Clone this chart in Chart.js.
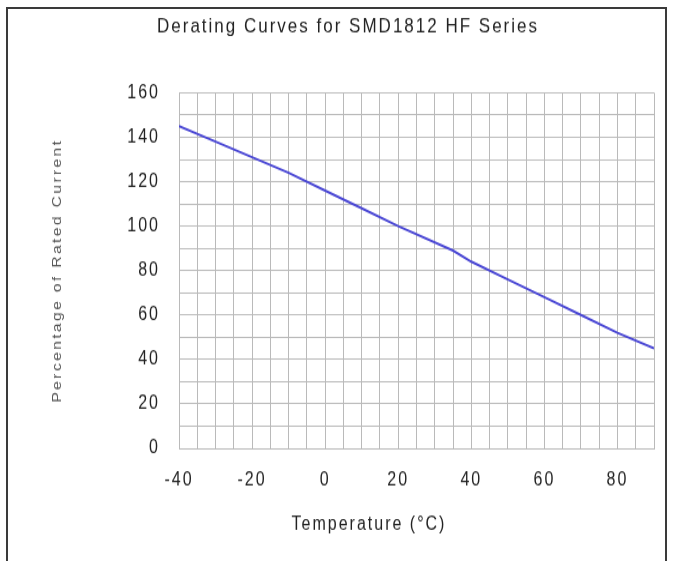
<!DOCTYPE html>
<html><head><meta charset="utf-8">
<script src="https://cdn.jsdelivr.net/npm/chart.js@4.4.1/dist/chart.umd.min.js"></script>
<style>
html,body{margin:0;padding:0;background:#fff;overflow:hidden}
#wrap{position:relative;width:679px;height:561px;background:#fff;overflow:hidden}
#stretch{position:absolute;left:0;top:0;width:679px;height:468px;transform-origin:0 0;transform:scaleY(1.1987)}
#frame{position:absolute;left:6px;top:7px;width:657px;height:600px;border:2px solid #3a3a3a;pointer-events:none}
canvas{display:block}
</style></head><body>
<div id="wrap"><div id="stretch"><canvas id="c" width="679" height="468"></canvas></div><div id="frame"></div></div>
<script>
const temperatures = [-40, -30, -20, -10, 0, 10, 20, 35, 40, 50, 60, 70, 80, 90];
const ratedPercent = [145, 138, 131, 124, 116, 108, 100, 89, 84, 76, 68, 60, 52, 45];
const xTickLabels = [-40, -20, 0, 20, 40, 60, 80];
const yTickLabels = [0, 20, 40, 60, 80, 100, 120, 140, 160];
const chartTitle = 'Derating Curves for SMD1812 HF Series';
const xAxisTitle = 'Temperature (°C)';
const yAxisTitle = 'Percentage of Rated Current';

const FONT = '"Liberation Sans", Arial, sans-serif';
const SPACING = '2px';

const spacingPlugin = {
  id: 'spacing',
  beforeUpdate(c) { c.ctx.letterSpacing = SPACING; },
  beforeLayout(c) { c.ctx.letterSpacing = SPACING; },
  beforeDraw(c) { c.ctx.letterSpacing = SPACING; },
  afterDraw(c) {
    const ctx = c.ctx, ca = c.chartArea;
    ctx.save();
    ctx.letterSpacing = SPACING;
    ctx.font = '16px ' + FONT;
    ctx.fillStyle = '#222';
    ctx.textAlign = 'center';
    ctx.textBaseline = 'middle';
    ctx.fillText(xAxisTitle, ca.left + 0.4 * (ca.right - ca.left), ca.bottom + 64);
    ctx.restore();
  }
};

const points = temperatures.map((t, i) => ({x: t, y: ratedPercent[i]}));

new Chart(document.getElementById('c'), {
  type: 'line',
  data: {
    datasets: [{
      data: points,
      borderColor: '#4a47d4',
      borderWidth: 2,
      pointRadius: 0,
      tension: 0,
      fill: false
    }]
  },
  options: {
    responsive: false,
    animation: false,
    devicePixelRatio: 1,
    layout: { padding: { left: 42, right: 25, top: 0, bottom: 0 } },
    plugins: {
      legend: { display: false },
      tooltip: { enabled: false },
      title: {
        display: true,
        text: chartTitle,
        color: '#222',
        font: { family: FONT, size: 17, weight: 'normal', lineHeight: 1.2 },
        padding: { top: 12, bottom: 45 }
      }
    },
    scales: {
      x: {
        type: 'linear',
        min: -40, max: 90,
        afterFit(s) { s.height = 94; },
        grid: { color: '#bababa', lineWidth: 1, drawTicks: false },
        border: { display: true, color: '#bababa' },
        ticks: {
          stepSize: 5, autoSkip: false, maxRotation: 0, padding: 17,
          color: '#222', font: { family: FONT, size: 16 },
          callback: v => xTickLabels.includes(v) ? String(v) : ''
        }
      },
      y: {
        min: 0, max: 160,
        afterFit(s) { s.width = 137; },
        grid: { color: '#bababa', lineWidth: 1, drawTicks: false },
        border: { display: true, color: '#bababa' },
        title: {
          display: true, text: yAxisTitle, color: '#555',
          font: { family: FONT, size: 13 }, padding: { top: 8, bottom: 0 }
        },
        ticks: {
          stepSize: 10, autoSkip: false, padding: 19,
          color: '#222', font: { family: FONT, size: 16 },
          callback: v => yTickLabels.includes(v) ? String(v) : ''
        }
      }
    }
  },
  plugins: [spacingPlugin]
});
</script>
</body></html>
